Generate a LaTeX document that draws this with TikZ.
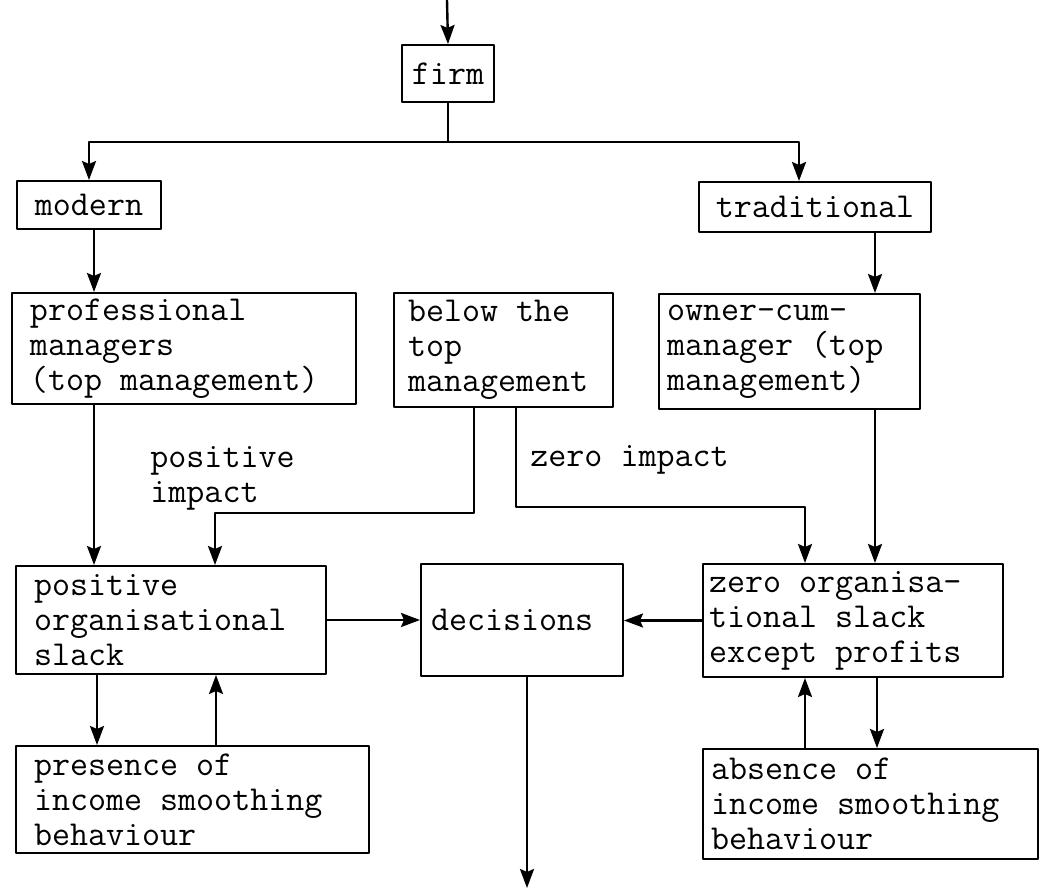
\documentclass[tikz,border=0pt]{standalone}
\usepackage{fontspec}
\usepackage{tikz}
\usetikzlibrary{arrows.meta}

\tikzset{
  box/.style={draw, line width=1pt, anchor=north west, align=flush left, inner sep=1pt,
    execute at begin node={\spaceskip=0pt\xspaceskip=0pt}},
  wire/.style={line width=1.2pt},
  arr/.style={wire, -{Stealth[length=9.5pt,width=7pt,inset=1.5pt]}},
  txt/.style={inner sep=0pt, align=left},
}

\begin{document}
\begin{tikzpicture}[
    x=0.5pt, y=-0.5pt,
    line join=round, line cap=round,
    every node/.style={font=\ttfamily\fontsize{17.5pt}{17.5pt}\selectfont}
  ]
  % Page
  \useasboundingbox (0,0) rectangle (1045,892);

  % Boxes (top left corner, size)
  \node[box, align=center, minimum width=46pt, minimum height=28.5pt] (firm) at (401,44) {firm};
  \node[box, minimum width=72pt, minimum height=24pt] (modern) at (16,180) {modern};
  \node[box, minimum width=116pt, minimum height=25pt] (traditional) at (698,181) {traditional};

  \node[box, inner xsep=9pt, text width=154pt, minimum height=55.5pt] (prof) at (11,292)
    {professional\\managers\\(top management)};
  \node[box, inner xsep=7pt, text width=95.5pt, minimum height=57pt] (below) at (393,292)
    {below the\\top\\management};
  \node[box, inner xsep=4pt, text width=122.5pt, minimum height=57.5pt] (owner) at (658,293)
    {owner-cum-\\manager (top\\management)};

  \node[box, inner xsep=9pt, text width=137pt, minimum height=54pt] (pslack) at (15,565)
    {positive\\organisational\\slack};
  \node[box, inner xsep=5pt, text width=91pt, minimum height=56pt] (decisions) at (420,563) {decisions};
  \node[box, inner xsep=3pt, text width=144pt, minimum height=56.5pt] (zslack) at (702,563)
    {zero organisa-\\tional slack\\except profits};

  \node[box, inner xsep=9pt, text width=158.5pt, minimum height=53.5pt] (presence) at (15,745)
    {presence of\\income smoothing\\behaviour};
  \node[box, inner xsep=4pt, text width=159.5pt, minimum height=55pt] (absence) at (702,748)
    {absence of\\income smoothing\\behaviour};

  % Impact labels
  \node[txt, anchor=north west] (posimp) at (150,446) {positive\\impact};
  \node[txt, anchor=base west] (zeroimp) at (530,467) {zero impact};

  % Entry and exit
  \coordinate (in) at (447,0);
  \coordinate (out) at (527,888);
  \draw[arr] (in) -- (firm.north);
  \draw[arr] (decisions.south -| out) -- (out);

  % Split of the firm
  \draw[wire] (firm.south) -- (firm.south |- 0,142) coordinate (split);
  \draw[arr] (split) -| (modern.north);
  \draw[arr] (split) -| (traditional.north -| 799,0);

  % Straight links downwards and upwards
  \foreach \s/\t/\x in {modern/prof/94, traditional/owner/875, prof/pslack/94,
      owner/zslack/875, pslack/presence/97, zslack/absence/877}{
      \draw[arr] (\s.south -| \x,0) -- (\t.north -| \x,0);
    }
  \foreach \s/\t/\x in {presence/pslack/216, absence/zslack/805}{
      \draw[arr] (\s.north -| \x,0) -- (\t.south -| \x,0);
    }

  % Below the top management
  \draw[arr] (below.south -| 474,0) -- ++(0,105) -| (pslack.north -| 215,0);
  \draw[arr] (below.south -| 516,0) -- ++(0,99) -| (zslack.north -| 805,0);

  % Into the decisions
  \draw[arr] (pslack.east) -- (pslack.east -| decisions.west);
  \draw[arr] (zslack.west) -- (zslack.west -| decisions.east);
\end{tikzpicture}
\end{document}
